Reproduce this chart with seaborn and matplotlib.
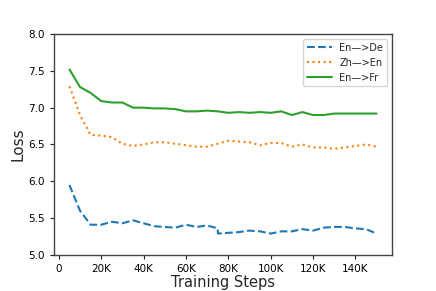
import matplotlib
matplotlib.use("Agg")
import matplotlib.pyplot as plt
import seaborn as sns
import pandas as pd
from matplotlib.ticker import FuncFormatter

steps = [5000, 10000, 15000, 20000, 25000, 30000, 35000, 40000, 45000, 50000,
         55000, 60000, 65000, 70000, 75000, 80000, 85000, 90000, 95000, 100000,
         105000, 110000, 115000, 120000, 125000, 130000, 135000, 140000, 145000, 150000]

steps_de = [5000, 10000, 15000, 20000, 25000, 30000, 35000, 40000, 45000, 50000,
            55000, 60000, 65000, 70000, 75000, 75100, 80000, 85000, 90000, 95000, 100000,
            105000, 110000, 115000, 120000, 125000, 130000, 135000, 140000, 145000, 150000]
en_de = [5.95, 5.60, 5.41, 5.41, 5.45, 5.43, 5.47, 5.43, 5.39, 5.38,
         5.37, 5.41, 5.38, 5.40, 5.36, 5.29, 5.30, 5.31, 5.33, 5.32, 5.29,
         5.32, 5.32, 5.35, 5.33, 5.37, 5.38, 5.38, 5.36, 5.35, 5.29]
zh_en = [7.29, 6.90, 6.63, 6.62, 6.60, 6.51, 6.48, 6.50, 6.53, 6.53,
         6.51, 6.49, 6.47, 6.47, 6.51, 6.55, 6.54, 6.53, 6.49, 6.52,
         6.52, 6.47, 6.50, 6.46, 6.46, 6.44, 6.46, 6.48, 6.50, 6.47]
en_fr = [7.52, 7.28, 7.20, 7.09, 7.07, 7.07, 7.00, 7.00, 6.99, 6.99,
         6.98, 6.95, 6.95, 6.96, 6.95, 6.93, 6.94, 6.93, 6.94, 6.93,
         6.95, 6.90, 6.94, 6.90, 6.90, 6.92, 6.92, 6.92, 6.92, 6.92]

labels = ["En\u2014>De", "Zh\u2014>En", "En\u2014>Fr"]
colors = ["#1f77b4", "#ff7f0e", "#2ca02c"]
styles = ["--", ":", "-"]
x_ticks = [0, 20000, 40000, 60000, 80000, 100000, 120000, 140000]

sns.set_style("ticks")
plt.rcParams['font.family'] = ['DejaVu Sans']

fig = plt.figure(figsize=(4.36, 2.91), dpi=100)
ax = fig.add_axes([0.124, 0.124, 0.775, 0.759])

series = [(steps_de, en_de), (steps, zh_en), (steps, en_fr)]
for (xs, ys), lab, c, ls in zip(series, labels, colors, styles):
    df = pd.DataFrame({"step": xs, "loss": ys})
    sns.lineplot(data=df, x="step", y="loss", ax=ax, color=c, linestyle=ls,
                 linewidth=1.5, label=lab)

ax.set_ylim(5.0, 8.0)
ax.set_yticks([5.0, 5.5, 6.0, 6.5, 7.0, 7.5, 8.0])
ax.set_xticks(x_ticks)
ax.xaxis.set_major_formatter(FuncFormatter(lambda v, p: "0" if v == 0 else f"{int(v/1000)}K"))
ax.tick_params(labelsize=7.5, length=3, width=0.8, colors="#222222", labelcolor="black")
ax.set_xlabel("Training Steps", fontsize=10.5, labelpad=1)
ax.set_ylabel("Loss", fontsize=11, labelpad=2)
for s in ax.spines.values():
    s.set_visible(True)
    s.set_color("#444444")
    s.set_linewidth(1.0)
leg = ax.legend(loc="upper right", fontsize=7, frameon=True, handlelength=2.5)
leg.get_frame().set_edgecolor("#cccccc")

fig.savefig("out.png", dpi=100)
